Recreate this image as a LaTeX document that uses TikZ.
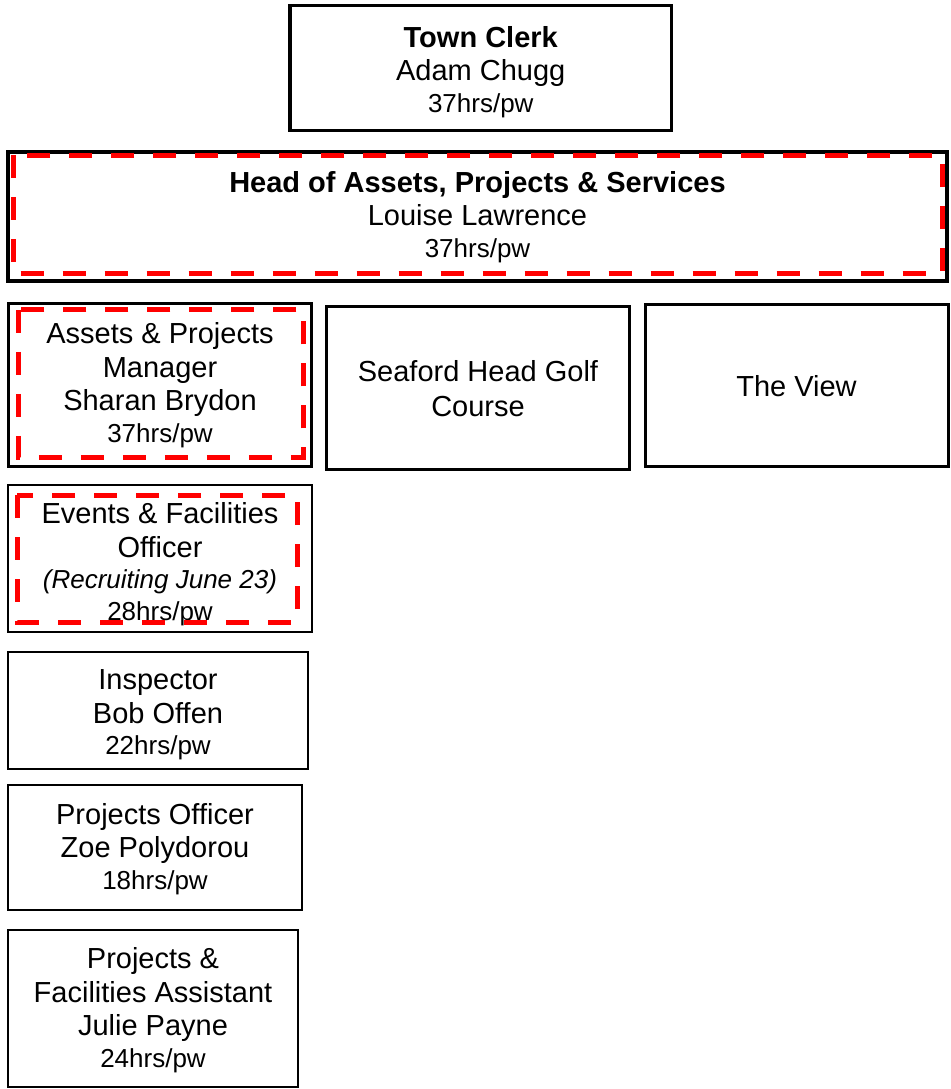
\documentclass[tikz,border=0pt]{standalone}
\usepackage{fontspec}
\setmainfont{Liberation Sans}

\newcommand{\hrs}[1]{{\fontsize{26}{33.5}\selectfont #1}}

\begin{document}
\begin{tikzpicture}[x=1pt, y=-1pt,
    every node/.style={font=\fontsize{29}{33.5}\selectfont, align=center},
    post/.style={draw, rectangle, inner sep=0pt, line width=3.5pt},
    thinpost/.style={post, line width=2pt},
    vacancy/.style={draw=red, line width=5pt, dash pattern=on 23pt off 19pt}]
    \useasboundingbox (0,0) rectangle (950,1089);

    % top of the tree
    \node[post, minimum width=381.5, minimum height=125] (clerk) at (480.75,68) {};
    \node (clerk text) at (480.75,72)
        {\textbf{Town Clerk}\\Adam Chugg\\[-2pt]\hrs{37hrs/pw}};
    \node[post, line width=4pt, minimum width=939, minimum height=129.5] (head) at (477.5,216.25) {};
    \node (head text) at (477.5,217)
        {\textbf{Head of Assets, Projects \& Services}\\Louise Lawrence\\[-2pt]\hrs{37hrs/pw}};

    % second row
    \node[post, minimum width=303, minimum height=163] (assets) at (160,385) {};
    \node (assets text) at (160,385)
        {Assets \& Projects\\Manager\\Sharan Brydon\\[-2pt]\hrs{37hrs/pw}};
    \node[post, line width=3pt, minimum width=303, minimum height=162.5] (golf) at (478,387.75) {};
    \node (golf text) at (478,388.75) {Seaford Head Golf\\[1.5pt]Course};
    \node[post, line width=3pt, minimum width=303, minimum height=162] (view) at (796.5,385.5) {};
    \node (view text) at (796.5,386.5) {The View};

    % left column
    \node[thinpost, minimum width=304, minimum height=147] (events) at (160,558.5) {};
    \node (events text) at (160,564)
        {Events \& Facilities\\Officer\\[-2pt]\hrs{\itshape (Recruiting June 23)}\\[-2pt]\hrs{28hrs/pw}};
    \node[thinpost, minimum width=300, minimum height=117] (inspector) at (158,710.5) {};
    \node (inspector text) at (158,715)
        {Inspector\\Bob Offen\\[-2pt]\hrs{22hrs/pw}};
    \node[thinpost, minimum width=294, minimum height=125] (projofficer) at (155,847.5) {};
    \node (projofficer text) at (155,849)
        {Projects Officer\\Zoe Polydorou\\[-2pt]\hrs{18hrs/pw}};
    \node[thinpost, minimum width=290, minimum height=157] (assistant) at (153,1008.5) {};
    \node (assistant text) at (153,1010)
        {Projects \&\\Facilities Assistant\\Julie Payne\\[-2pt]\hrs{24hrs/pw}};

    % red dashed frames
    \draw[vacancy] ([shift={(7,5.5)}]head.north west) rectangle ([shift={(-7,-9.5)}]head.south east);
    \draw[vacancy] ([shift={(11.5,8)}]assets.north west) rectangle ([shift={(-9.5,-11)}]assets.south east);
    \draw[vacancy] ([shift={(10,11)}]events.north west) rectangle ([shift={(-16,-11)}]events.south east);
\end{tikzpicture}
\end{document}
